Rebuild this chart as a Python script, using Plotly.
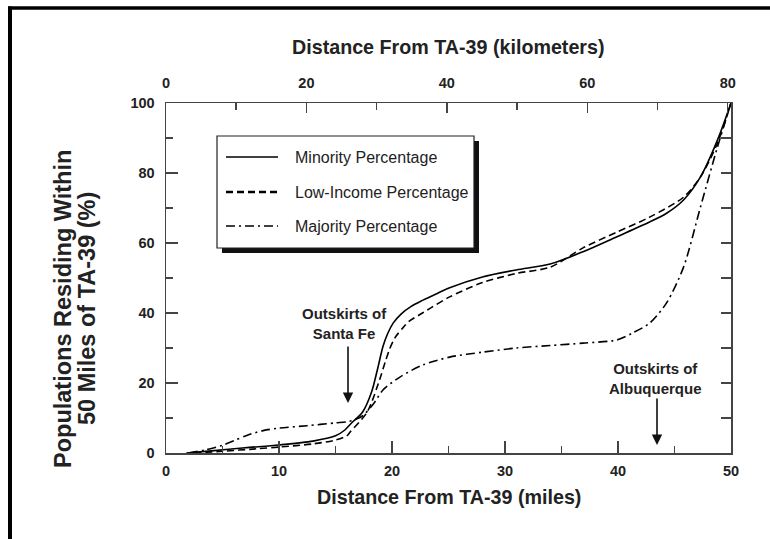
import plotly.graph_objects as go

# ---- data ----
miles_minority = [1.8, 4, 7, 10, 13, 15, 15.8, 16.4, 17.4, 18.2, 18.7, 19.2, 19.6, 20.1, 20.8, 21.7,
                  22.7, 24, 25.1, 28, 31, 34, 36.9, 39.9, 42.8, 44.3, 45.8, 47.3, 48.8, 50]
pct_minority = [0, 0.6, 1.5, 2.3, 3.4, 4.9, 6.5, 8.5, 11.7, 17.5, 23.7, 30.4, 34.0, 37.1, 39.7, 41.9,
                43.6, 45.6, 47.2, 50.3, 52.3, 54, 57.5, 61.8, 66, 68.5, 72.3, 78.9, 89.4, 100]

miles_lowincome = [2.5, 5, 8, 10, 13, 15, 16, 16.3, 17.8, 18.9, 19.4, 19.8, 20.3, 21, 21.5, 22.7, 23.5,
                   25.1, 28, 31, 34, 36.9, 39.9, 42.8, 45.8, 47.3, 48.8, 50]
pct_lowincome = [0, 0.5, 1.2, 1.7, 2.6, 3.7, 4.9, 6, 11.7, 20.9, 26.0, 29.8, 33.1, 35.9, 37.6, 40, 41.6,
                 44.6, 48.7, 51.3, 53.1, 58.6, 63.1, 67.4, 73.1, 78.9, 88.5, 100]

miles_majority = [2, 3.5, 5, 6, 7.2, 8.6, 10, 12.5, 15, 16, 16.6, 17.2, 17.6, 18.4, 19.2, 20.7, 22.7,
                  25.1, 28, 31, 34, 36.9, 39.9, 41.3, 42.8, 44.3, 45.8, 47.3, 48.8, 50]
pct_majority = [0, 0.9, 2.2, 3.5, 5.1, 6.4, 7.1, 7.8, 8.6, 8.9, 9.4, 10.2, 11.2, 14.2, 18, 21.7, 25.1,
                27.4, 28.8, 30, 30.7, 31.4, 32.3, 34.3, 37.1, 42.9, 53.1, 70.3, 87.4, 100]

series_names = ["Minority Percentage", "Low-Income Percentage", "Majority Percentage"]
mile_ticks = [0, 10, 20, 30, 40, 50]
km_ticks = [0, 20, 40, 60, 80]
pct_ticks = [0, 20, 40, 60, 80, 100]
KM_PER_MILE = 1.609344

# ---- layout geometry (pixels) ----
W, H = 770, 539
L, R, T, B = 166, 731, 103, 453
def px(x):
    return (x - L) / (R - L)
def py(y):
    return (B - y) / (B - T)

FONT = "Liberation Sans, Arial, Helvetica, sans-serif"
TXT = "#222222"
AX = "#444444"

dashes = ["solid", "7px,4px", "9px,4px,2px,4px"]
xs = [miles_minority, miles_lowincome, miles_majority]
ys = [pct_minority, pct_lowincome, pct_majority]

fig = go.Figure()
for name, x, y, d in zip(series_names, xs, ys, dashes):
    fig.add_trace(go.Scatter(x=x, y=y, name=name, mode="lines",
                             line=dict(color="black", width=1.6, dash=d, shape="spline", smoothing=0.8),
                             showlegend=False, hoverinfo="skip"))
# dummy trace for secondary axes
fig.add_trace(go.Scatter(x=[0], y=[0], xaxis="x2", yaxis="y2", mode="markers",
                         marker=dict(opacity=0), showlegend=False, hoverinfo="skip"))

tickfont = dict(family=FONT, size=14.5, color=TXT, weight="bold")
common = dict(showline=True, linecolor=AX, linewidth=1.5, ticks="inside", tickcolor=AX,
              tickwidth=1.5, showgrid=False, zeroline=False, tickfont=tickfont)

fig.update_layout(
    width=W, height=H,
    margin=dict(l=L, r=W - R, t=T, b=H - B),
    paper_bgcolor="white", plot_bgcolor="white",
    showlegend=False,
    font=dict(family=FONT, color=TXT),
    xaxis=dict(range=[0, 50], tickmode="array", tickvals=mile_ticks, ticklen=12,
               minor=dict(ticks="inside", ticklen=7, tickvals=[5, 15, 25, 35, 45], tickcolor=AX, tickwidth=1.5),
               ticklabelstandoff=4, **common),
    xaxis2=dict(range=[0, 50 * KM_PER_MILE], overlaying="x", side="top", tickmode="array",
                tickvals=km_ticks, ticklen=10, anchor="y",
                minor=dict(ticks="inside", ticklen=7, tickvals=[10, 30, 50, 70], tickcolor=AX, tickwidth=1.5),
                ticklabelstandoff=8, **common),
    yaxis=dict(range=[0, 100], tickmode="array", tickvals=pct_ticks, ticklen=12,
               minor=dict(ticks="inside", ticklen=7, tickvals=[10, 30, 50, 70, 90], tickcolor=AX, tickwidth=1.5),
               ticklabelstandoff=7, **common),
    yaxis2=dict(range=[0, 100], overlaying="y", side="right", tickmode="array", tickvals=pct_ticks,
                ticklen=10, showticklabels=False, anchor="x",
                minor=dict(ticks="inside", ticklen=10, tickvals=[10, 30, 50, 70, 90], tickcolor=AX, tickwidth=1.5),
                **common),
)

shapes = []
# outer frame (top and left thick lines)
shapes.append(dict(type="line", xref="paper", yref="paper", x0=px(8), x1=px(770), y0=py(8), y1=py(8),
                   line=dict(color="black", width=3.5)))
shapes.append(dict(type="line", xref="paper", yref="paper", x0=px(10), x1=px(10), y0=py(6.5), y1=py(539),
                   line=dict(color="black", width=4)))
# legend shadow and box
shapes.append(dict(type="rect", xref="paper", yref="paper", x0=px(222), x1=px(479), y0=py(141), y1=py(253),
                   fillcolor="#111111", line=dict(width=0), layer="above"))
shapes.append(dict(type="rect", xref="paper", yref="paper", x0=px(217), x1=px(474), y0=py(136), y1=py(248),
                   fillcolor="white", line=dict(color="#222222", width=1.2), layer="above"))
legend_rows = [157, 192, 226]
for yy, d in zip(legend_rows, dashes):
    shapes.append(dict(type="line", xref="paper", yref="paper", x0=px(226), x1=px(278), y0=py(yy), y1=py(yy),
                       line=dict(color="black", width=1.6 if d != "7px,4px" else 2.4, dash=d), layer="above"))
fig.update_layout(shapes=shapes)

ann = []
for yy, name in zip(legend_rows, series_names):
    ann.append(dict(xref="paper", yref="paper", x=px(293), y=py(yy), text=name, showarrow=False,
                    xanchor="left", yanchor="middle", font=dict(family=FONT, size=16, color=TXT)))
bold = dict(family=FONT, size=19.7, color=TXT)
ann.append(dict(xref="paper", yref="paper", x=0.5, y=py(47), text="<b>Distance From TA-39 (kilometers)</b>",
                showarrow=False, xanchor="center", yanchor="middle", font=bold))
ann.append(dict(xref="paper", yref="paper", x=0.5, y=py(497), text="<b>Distance From TA-39 (miles)</b>",
                showarrow=False, xanchor="center", yanchor="middle", font=bold))
ann.append(dict(xref="paper", yref="paper", x=px(63), y=py(309), text="<b>Populations Residing Within</b>",
                showarrow=False, xanchor="center", yanchor="middle", textangle=-90,
                font=dict(family=FONT, size=23.5, color=TXT)))
ann.append(dict(xref="paper", yref="paper", x=px(87), y=py(309), text="<b>50 Miles of TA-39 (%)</b>",
                showarrow=False, xanchor="center", yanchor="middle", textangle=-90,
                font=dict(family=FONT, size=23.5, color=TXT)))
note = dict(family=FONT, size=15, color=TXT)
ann.append(dict(xref="paper", yref="paper", x=px(344), y=py(323), text="<b>Outskirts of<br>Santa Fe</b>",
                showarrow=False, xanchor="center", yanchor="middle", font=note))
ann.append(dict(xref="paper", yref="paper", x=px(655), y=py(378), text="<b>Outskirts of<br>Albuquerque</b>",
                showarrow=False, xanchor="center", yanchor="middle", font=note))
# arrows
ann.append(dict(xref="paper", yref="paper", x=px(348), y=py(403), ax=0, ay=-58, text="",
                showarrow=True, arrowhead=2, arrowsize=1.3, arrowwidth=1.6, arrowcolor="#111111"))
ann.append(dict(xref="paper", yref="paper", x=px(657), y=py(445), ax=0, ay=-48, text="",
                showarrow=True, arrowhead=2, arrowsize=1.3, arrowwidth=1.6, arrowcolor="#111111"))
fig.update_layout(annotations=ann)

fig.write_html("out.html", config={"displayModeBar": False, "staticPlot": True},
               post_script="document.documentElement.style.margin='0';document.body.style.margin='0';"
                           "document.documentElement.style.overflow='hidden';"
                           "document.body.style.overflow='hidden';")
